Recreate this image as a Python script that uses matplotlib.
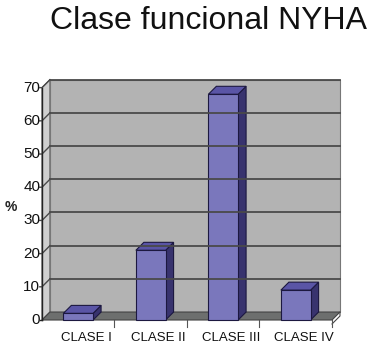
import matplotlib
matplotlib.use("Agg")
import matplotlib.pyplot as plt
from matplotlib.patches import Polygon

plt.rcParams['font.family'] = ['Liberation Sans', 'DejaVu Sans']

categories = ["CLASE I", "CLASE II", "CLASE III", "CLASE IV"]
values = [2, 21, 68, 9]
yticks = [0, 10, 20, 30, 40, 50, 60, 70]
title = "Clase funcional NYHA"
ylabel = "%"

# fake 3d depth in data units
DX = 0.11
DY = 2.4
BW = 0.41

wall_col = "#b3b3b3"
side_wall_col = "#cfcfcf"
floor_col = "#6d6f6e"
grid_col = "#4a4a4a"
bar_front = "#7a77bc"
bar_side = "#38336e"
bar_top = "#5a55a6"
bar_edge = "#1c1840"


def main():
    fig = plt.figure(figsize=(3.75, 3.53), dpi=100)
    ax = fig.add_axes([0, 0, 1, 1])
    ax.set_xlim(-1.079, 4.093)
    ax.set_ylim(-9.94, 96.4)
    ax.axis("off")

    x0, x1 = -0.5, len(categories) - 0.5
    top = yticks[-1]

    # side wall and back wall
    ax.add_patch(Polygon([(x0, 0), (x0 + DX, DY), (x0 + DX, top + DY), (x0, top)],
                         closed=True, fc=side_wall_col, ec="#555555", lw=0.8))
    ax.add_patch(Polygon([(x0 + DX, DY), (x1 + DX, DY), (x1 + DX, top + DY), (x0 + DX, top + DY)],
                         closed=True, fc=wall_col, ec="#777777", lw=0.8))

    # gridlines
    for v in yticks[1:]:
        ax.plot([x0 + DX, x1 + DX], [v + DY, v + DY], color=grid_col, lw=1.3)
        ax.plot([x0 - 0.03, x0, x0 + DX], [v, v, v + DY], color=grid_col, lw=1.0)

    # floor
    ax.add_patch(Polygon([(x0, 0), (x1, 0), (x1 + DX, DY), (x0 + DX, DY)],
                         closed=True, fc=floor_col, ec="#444444", lw=0.8))
    ax.plot([x1, x1 + DX, x1 + DX], [-1.2, DY - 1.2, DY], color="#444444", lw=0.8)

    # front axis
    ax.plot([x0, x0], [0, top], color="#222222", lw=1.0)
    ax.plot([x0 - 0.03, x0], [0, 0], color="#222222", lw=1.0)
    for k in range(1, len(categories) + 1):
        xt = x0 + k
        ax.plot([xt, xt], [0, -2.0], color="#555555", lw=0.8)

    # bars
    for i, v in enumerate(values):
        l, r = i - BW / 2, i + BW / 2
        ax.add_patch(Polygon([(r, 0), (r + DX, DY), (r + DX, v + DY), (r, v)],
                             closed=True, fc=bar_side, ec=bar_edge, lw=0.8))
        ax.add_patch(Polygon([(l, v), (r, v), (r + DX, v + DY), (l + DX, v + DY)],
                             closed=True, fc=bar_top, ec=bar_edge, lw=0.8))
        ax.add_patch(Polygon([(l, 0), (r, 0), (r, v), (l, v)],
                             closed=True, fc=bar_front, ec=bar_edge, lw=0.8))

    # labels
    for v in yticks:
        ax.text(x0 - 0.025, v, str(v), ha="right", va="center", fontsize=11, color="#111111")
    for i, c in enumerate(categories):
        ax.text(i + DX, -5.4, c, ha="center", va="center", fontsize=9.5, color="#111111")
    ax.text(-0.93, 34, ylabel, ha="center", va="center", fontsize=10, fontweight="bold", color="#222222")

    fig.text(209 / 375, 1 - 29 / 353, title, ha="center", va="baseline", fontsize=23, color="#111111")

    fig.savefig("out.png", dpi=100)


if __name__ == "__main__":
    main()
